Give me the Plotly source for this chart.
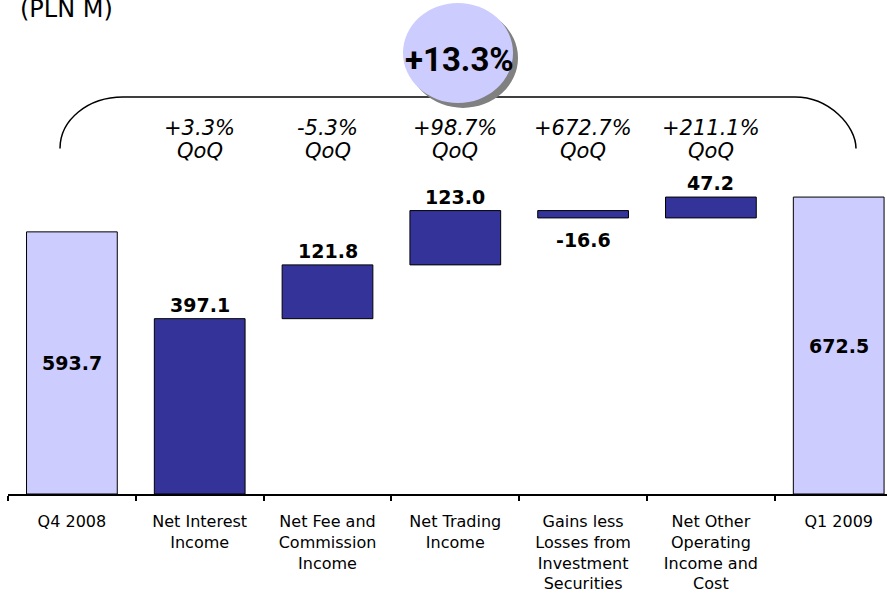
import plotly.graph_objects as go

categories = ["Q4 2008", "Net Interest<br>Income", "Net Fee and<br>Commission<br>Income",
              "Net Trading<br>Income", "Gains less<br>Losses from<br>Investment<br>Securities",
              "Net Other<br>Operating<br>Income and<br>Cost", "Q1 2009"]
values = [593.7, 397.1, 121.8, 123.0, -16.6, 47.2, 672.5]
is_total = [True, False, False, False, False, False, True]
qoq_labels = [None, "+3.3%", "-5.3%", "+98.7%", "+672.7%", "+211.1%", None]
total_change = "+13.3%"
unit_label = "(PLN M)"

DARK = "#333399"
LIGHT = "#CCCCFF"
W, H = 887, 593
L, B = 8, 94
PW, PH = W - L, H - B


def px_x(px):
    return (px - L) / PW


def px_y(py):
    return (PH - py) / PH


# waterfall bases: components stack from zero, totals start at zero
bases, running = [], 0.0
for v, tot in zip(values, is_total):
    if tot:
        bases.append(0.0)
    else:
        bases.append(running)
        running += v

xs = list(range(len(categories)))
colors = [LIGHT if t else DARK for t in is_total]

fig = go.Figure(go.Bar(
    x=xs, y=values, base=bases, width=0.71,
    marker=dict(color=colors, line=dict(color="black", width=1)),
    hoverinfo="skip",
))

val_font = dict(family="DejaVu Sans", size=19, color="black")
anns = []
for i, (v, b, tot) in enumerate(zip(values, bases, is_total)):
    txt = "<b>%.1f</b>" % v
    if tot:
        anns.append(dict(x=i, y=v / 2, text=txt, showarrow=False, font=val_font,
                         xref="x", yref="y", yanchor="middle"))
    elif v >= 0:
        anns.append(dict(x=i, y=b + v, text=txt, showarrow=False, font=val_font,
                         xref="x", yref="y", yanchor="middle", yshift=14))
    else:
        anns.append(dict(x=i, y=b + v, text=txt, showarrow=False, font=val_font,
                         xref="x", yref="y", yanchor="middle", yshift=-22))

qoq_font = dict(family="DejaVu Sans", size=21, color="black")
for i, q in enumerate(qoq_labels):
    if q:
        anns.append(dict(x=i, y=px_y(129), xref="x", yref="paper", showarrow=False,
                         text="<i>%s</i>" % q, yanchor="middle", font=qoq_font))
        anns.append(dict(x=i, y=px_y(153), xref="x", yref="paper", showarrow=False,
                         text="<i>QoQ</i>", yanchor="middle", font=qoq_font))

anns.append(dict(x=px_x(459), y=px_y(60), xref="paper", yref="paper", showarrow=False,
                 text="<b>%s</b>" % total_change, yanchor="middle",
                 font=dict(family="Roboto", size=33, color="black")))
anns.append(dict(x=px_x(18), y=px_y(15), xref="paper", yref="paper", showarrow=False,
                 text=unit_label, xanchor="left", yanchor="bottom", yshift=-10,
                 font=dict(family="DejaVu Sans", size=24, color="black")))

# bracket over the components
bracket = ("M %f %f C %f %f %f %f %f %f L %f %f C %f %f %f %f %f %f" % (
    px_x(60), px_y(150), px_x(60), px_y(121), px_x(88), px_y(98), px_x(123), px_y(98),
    px_x(795), px_y(98), px_x(829), px_y(98), px_x(856), px_y(127), px_x(856), px_y(150)))

shapes = [
    dict(type="path", path=bracket, xref="paper", yref="paper",
         line=dict(color="black", width=1.5)),
    dict(type="circle", xref="paper", yref="paper",
         x0=px_x(408), x1=px_x(518), y0=px_y(109), y1=px_y(8),
         fillcolor="#808080", line=dict(width=0)),
    dict(type="circle", xref="paper", yref="paper",
         x0=px_x(403), x1=px_x(513), y0=px_y(104), y1=px_y(3),
         fillcolor=LIGHT, line=dict(width=0)),
]

fig.update_layout(
    width=W, height=H,
    margin=dict(l=L, r=0, t=0, b=B),
    plot_bgcolor="white", paper_bgcolor="white",
    showlegend=False,
    annotations=anns,
    shapes=shapes,
    xaxis=dict(
        range=[-0.5, -0.5 + PW / 127.8],
        tickvals=xs, ticktext=categories, ticks="", tickangle=0,
        tickfont=dict(family="DejaVu Sans", size=16, color="black"),
        ticklabelstandoff=12,
        showline=True, linecolor="black", linewidth=1.5,
        showgrid=False, zeroline=False,
        minor=dict(tickvals=[i - 0.5 for i in xs], ticks="outside", ticklen=5,
                   tickcolor="black", tickwidth=1.5, showgrid=False),
        fixedrange=True,
    ),
    yaxis=dict(range=[0, PH / 0.446], visible=False, fixedrange=True),
)

fig.write_html("out.html", config={"displayModeBar": False},
               post_script="document.body.style.margin='0';document.body.style.overflow='hidden';")
